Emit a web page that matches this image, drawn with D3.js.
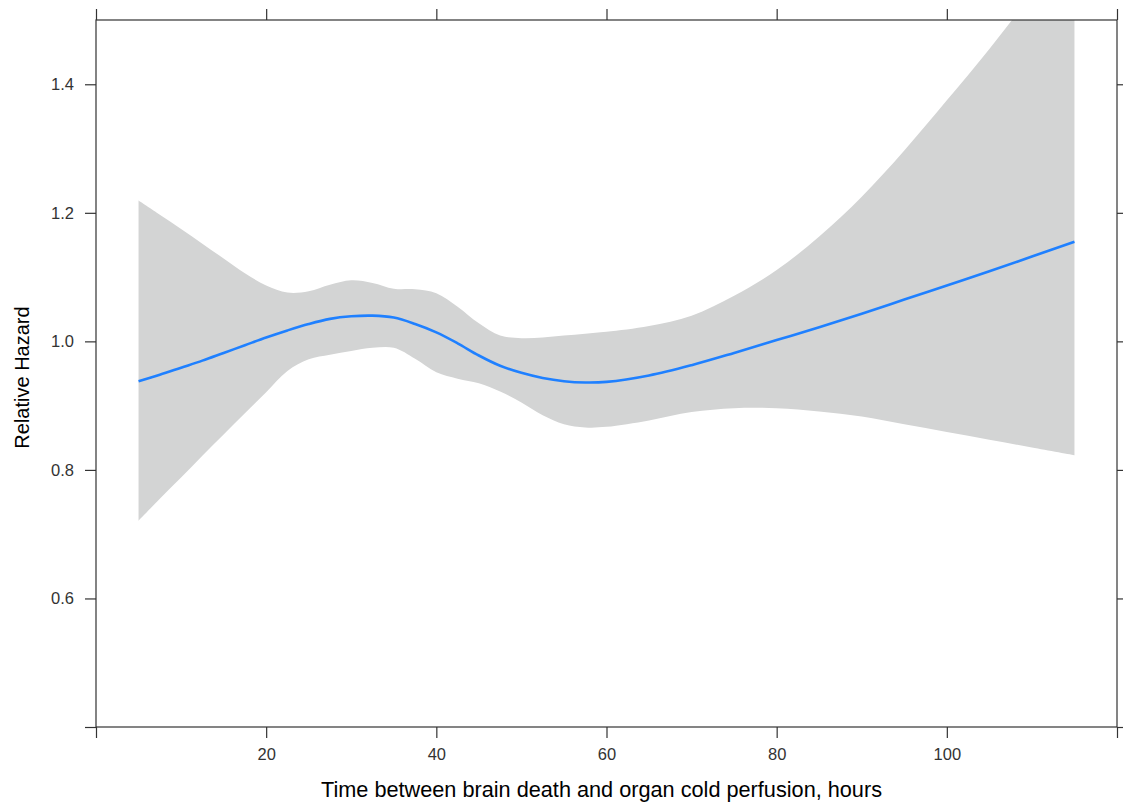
<!DOCTYPE html>
<html>
<head>
<meta charset="utf-8">
<script src="https://cdn.jsdelivr.net/npm/d3@7"></script>
<style>
  html, body { margin: 0; padding: 0; background: #fff; }
  svg { display: block; font-family: "Liberation Sans", Arial, sans-serif; }
</style>
</head>
<body>
<svg id="chart" width="1123" height="806"></svg>
<script>
// ---- data ----
const hours = [5, 7.5, 10, 12.5, 15, 17.5, 20, 22.5, 25, 27.5, 30, 32.5, 35, 37.5, 40, 42.5,
  45, 47.5, 50, 52.5, 55, 57.5, 60, 65, 70, 75, 80, 85, 90, 95, 100, 105, 110, 115];
const hazard = [0.938, 0.948, 0.959, 0.970, 0.982, 0.994, 1.006, 1.017, 1.027, 1.035, 1.039, 1.040,
  1.037, 1.027, 1.014, 0.997, 0.978, 0.962, 0.951, 0.943, 0.938, 0.936, 0.937, 0.947, 0.963,
  0.982, 1.002, 1.022, 1.043, 1.065, 1.087, 1.109, 1.132, 1.155];
const upper = [1.219, 1.197, 1.175, 1.152, 1.129, 1.106, 1.087, 1.076, 1.078, 1.088, 1.095, 1.091,
  1.082, 1.081, 1.075, 1.054, 1.028, 1.009, 1.005, 1.006, 1.009, 1.012, 1.015, 1.024, 1.040,
  1.071, 1.111, 1.163, 1.225, 1.297, 1.375, 1.455, 1.540, 1.625];
const lower = [0.721, 0.755, 0.788, 0.822, 0.855, 0.888, 0.921, 0.954, 0.972, 0.979, 0.985, 0.990,
  0.990, 0.973, 0.952, 0.942, 0.935, 0.922, 0.905, 0.885, 0.871, 0.866, 0.867, 0.877, 0.890,
  0.896, 0.896, 0.891, 0.883, 0.871, 0.859, 0.847, 0.835, 0.823];
const xTicks = [0, 20, 40, 60, 80, 100, 120];
const xTickLabels = ["", "20", "40", "60", "80", "100", ""];
const yTicks = [0.4, 0.6, 0.8, 1.0, 1.2, 1.4];
const yTickLabels = ["", "0.6", "0.8", "1.0", "1.2", "1.4"];
const xTitle = "Time between brain death and organ cold perfusion, hours";
const yTitle = "Relative Hazard";

// ---- layout ----
const svg = d3.select("#chart");
const L = 96, R = 1117, T = 20, B = 727;
const x = d3.scaleLinear().domain([0, 120]).range([L, R]);
const y = d3.scaleLinear().domain([0.4, 1.5]).range([B, T]);

const pts = hours.map((h, i) => ({ h, f: hazard[i], u: upper[i], l: lower[i] }));

svg.append("defs").append("clipPath").attr("id", "clip")
  .append("rect").attr("x", L).attr("y", T).attr("width", R - L).attr("height", B - T);

const g = svg.append("g").attr("clip-path", "url(#clip)");

g.append("path")
  .datum(pts)
  .attr("fill", "#d3d4d4")
  .attr("d", d3.area().curve(d3.curveCatmullRom)
    .x(d => x(d.h)).y0(d => y(d.l)).y1(d => y(d.u)));

g.append("path")
  .datum(pts)
  .attr("fill", "none")
  .attr("stroke", "#1f80ff")
  .attr("stroke-width", 2.6)
  .attr("d", d3.line().curve(d3.curveCatmullRom).x(d => x(d.h)).y(d => y(d.f)));

// ---- axes ----
const axColor = "#333";
function style(sel) {
  sel.select(".domain").remove();
  sel.selectAll(".tick line").attr("stroke", axColor).attr("stroke-width", 1.2);
  sel.selectAll(".tick text").attr("fill", "#333").style("font-size", "16.5px")
    .style("font-family", "'Liberation Sans', Arial, sans-serif");
}
svg.append("g").attr("transform", `translate(0,${B})`)
  .call(d3.axisBottom(x).tickValues(xTicks).tickSize(11).tickPadding(10)
    .tickFormat((d, i) => xTickLabels[i])).call(style);
svg.append("g").attr("transform", `translate(0,${T})`)
  .call(d3.axisTop(x).tickValues(xTicks).tickSize(11).tickFormat(() => "")).call(style);
svg.append("g").attr("transform", `translate(${L},0)`)
  .call(d3.axisLeft(y).tickValues(yTicks).tickSize(11).tickPadding(11)
    .tickFormat((d, i) => yTickLabels[i])).call(style);
svg.append("g").attr("transform", `translate(${R},0)`)
  .call(d3.axisRight(y).tickValues(yTicks).tickSize(11).tickFormat(() => "")).call(style);

// frame
svg.append("rect").attr("x", L).attr("y", T).attr("width", R - L).attr("height", B - T)
  .attr("fill", "none").attr("stroke", axColor).attr("stroke-width", 1.2);

// titles
svg.append("text").attr("x", (L + R) / 2 - 5).attr("y", 797).attr("text-anchor", "middle")
  .style("font-size", "21.7px").attr("fill", "#000").text(xTitle);
svg.append("text").attr("transform", `translate(29,${(T + B) / 2 + 4}) rotate(-90)`)
  .attr("text-anchor", "middle").style("font-size", "20px").attr("fill", "#000").text(yTitle);
</script>
</body>
</html>
